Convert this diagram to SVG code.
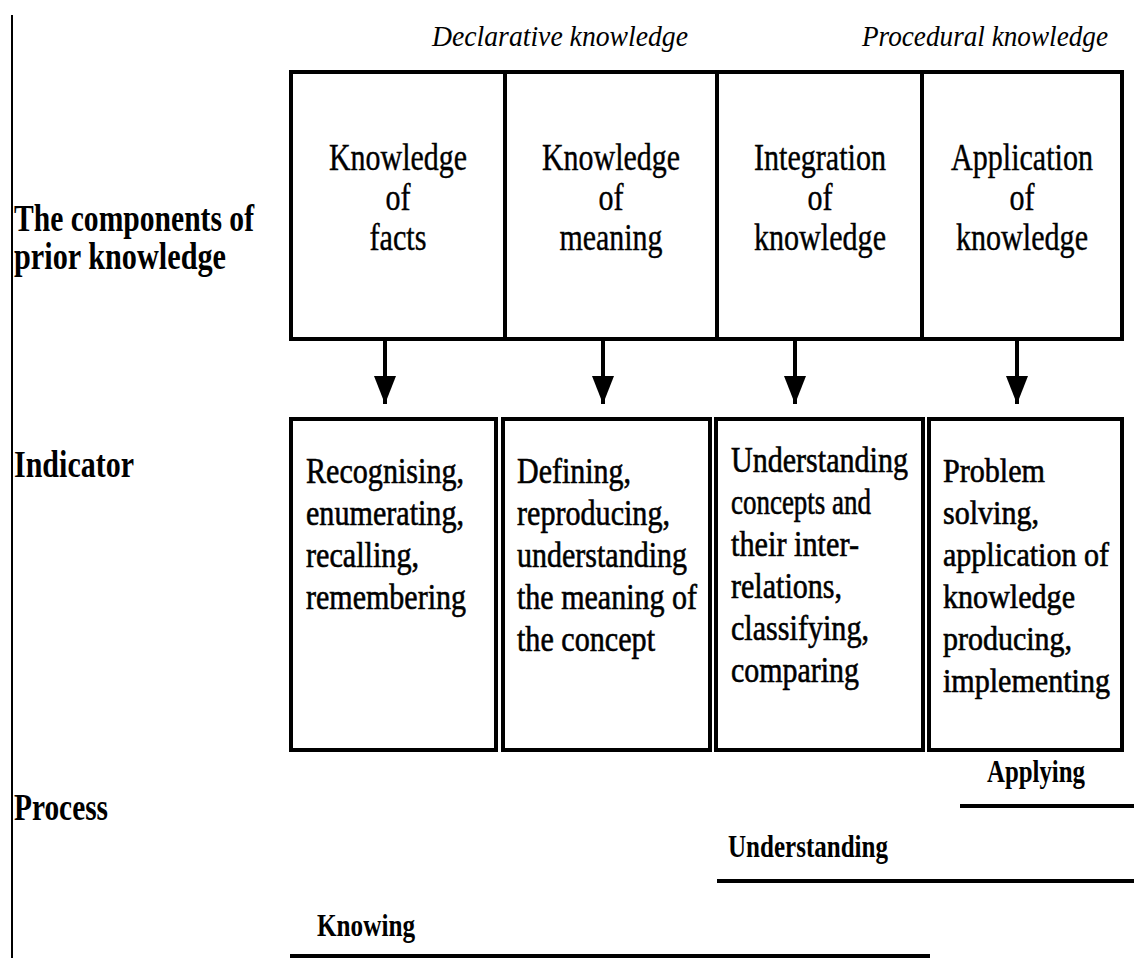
<svg xmlns="http://www.w3.org/2000/svg" width="1134" height="958" viewBox="0 0 1134 958">
  <defs>
    <marker id="arr" markerWidth="28" markerHeight="22" refX="28" refY="11" orient="auto" markerUnits="userSpaceOnUse" viewBox="0 0 28 22">
      <path d="M0,0 L28,11 L0,22 Z" fill="#000"/>
    </marker>
    <style>
      .box { fill: #fff; stroke: #000; stroke-width: 4; }
      .div { stroke: #000; stroke-width: 4; }
      .hd { font-family: "Liberation Serif", "Times New Roman", serif; font-size: 37px; fill: #000; text-anchor: middle; stroke: #000; stroke-width: 0.4; }
      .ind { font-family: "Liberation Serif", "Times New Roman", serif; font-size: 36px; fill: #000; stroke: #000; stroke-width: 0.6; }
      .ind4 { font-family: "Liberation Serif", "Times New Roman", serif; font-size: 33px; fill: #000; stroke: #000; stroke-width: 0.6; }
      .lbl { font-family: "Liberation Serif", "Times New Roman", serif; font-size: 38px; font-weight: bold; fill: #000; }
      .it { font-family: "Liberation Serif", "Times New Roman", serif; font-size: 29.5px; font-style: italic; fill: #000; }
      .proc { font-family: "Liberation Serif", "Times New Roman", serif; font-size: 32px; font-weight: bold; fill: #000; }
      .conn { stroke: #000; stroke-width: 4; fill: none; }
      .bar { stroke: #000; stroke-width: 4; }
    </style>
  </defs>
  <rect width="1134" height="958" fill="#fff"/>
  <line x1="12" y1="15" x2="12" y2="958" stroke="#000" stroke-width="2"/>

  <g id="type-labels">
    <text class="it" x="432" y="46" textLength="256" lengthAdjust="spacingAndGlyphs">Declarative knowledge</text>
    <text class="it" x="862" y="46" textLength="246" lengthAdjust="spacingAndGlyphs">Procedural knowledge</text>
  </g>

  <g id="row-labels">
    <text class="lbl" x="14" y="231" textLength="240" lengthAdjust="spacingAndGlyphs">The components of</text>
    <text class="lbl" x="14" y="269" textLength="212" lengthAdjust="spacingAndGlyphs">prior knowledge</text>
    <text class="lbl" x="14" y="477" textLength="120" lengthAdjust="spacingAndGlyphs">Indicator</text>
    <text class="lbl" x="14" y="820" textLength="94" lengthAdjust="spacingAndGlyphs">Process</text>
  </g>

  <g id="components">
    <rect class="box" x="291" y="72" width="831" height="267"/>
    <line class="div" x1="505" y1="72" x2="505" y2="339"/>
    <line class="div" x1="717" y1="72" x2="717" y2="339"/>
    <line class="div" x1="922" y1="72" x2="922" y2="339"/>
  </g>
  <g id="comp-facts">
    <text class="hd" x="398" y="170" textLength="138" lengthAdjust="spacingAndGlyphs">Knowledge</text>
    <text class="hd" x="398" y="210" textLength="25" lengthAdjust="spacingAndGlyphs">of</text>
    <text class="hd" x="398" y="250" textLength="57" lengthAdjust="spacingAndGlyphs">facts</text>
  </g>
  <g id="comp-meaning">
    <text class="hd" x="611" y="170" textLength="138" lengthAdjust="spacingAndGlyphs">Knowledge</text>
    <text class="hd" x="611" y="210" textLength="25" lengthAdjust="spacingAndGlyphs">of</text>
    <text class="hd" x="611" y="250" textLength="103" lengthAdjust="spacingAndGlyphs">meaning</text>
  </g>
  <g id="comp-integration">
    <text class="hd" x="820" y="170" textLength="132" lengthAdjust="spacingAndGlyphs">Integration</text>
    <text class="hd" x="820" y="210" textLength="25" lengthAdjust="spacingAndGlyphs">of</text>
    <text class="hd" x="820" y="250" textLength="132" lengthAdjust="spacingAndGlyphs">knowledge</text>
  </g>
  <g id="comp-application">
    <text class="hd" x="1022" y="170" textLength="142" lengthAdjust="spacingAndGlyphs">Application</text>
    <text class="hd" x="1022" y="210" textLength="25" lengthAdjust="spacingAndGlyphs">of</text>
    <text class="hd" x="1022" y="250" textLength="132" lengthAdjust="spacingAndGlyphs">knowledge</text>
  </g>

  <g id="connectors">
    <line class="conn" x1="385" y1="339" x2="385" y2="404" marker-end="url(#arr)"/>
    <line class="conn" x1="603" y1="339" x2="603" y2="404" marker-end="url(#arr)"/>
    <line class="conn" x1="795" y1="339" x2="795" y2="404" marker-end="url(#arr)"/>
    <line class="conn" x1="1017" y1="339" x2="1017" y2="404" marker-end="url(#arr)"/>
  </g>

  <g id="ind-facts">
    <rect class="box" x="291" y="419" width="205" height="331"/>
    <text class="ind" x="306" y="483" textLength="158" lengthAdjust="spacingAndGlyphs">Recognising,</text>
    <text class="ind" x="306" y="525" textLength="158" lengthAdjust="spacingAndGlyphs">enumerating,</text>
    <text class="ind" x="306" y="567" textLength="113" lengthAdjust="spacingAndGlyphs">recalling,</text>
    <text class="ind" x="306" y="609" textLength="160" lengthAdjust="spacingAndGlyphs">remembering</text>
  </g>
  <g id="ind-meaning">
    <rect class="box" x="503" y="419" width="207" height="331"/>
    <text class="ind" x="517" y="483" textLength="114" lengthAdjust="spacingAndGlyphs">Defining,</text>
    <text class="ind" x="517" y="525" textLength="153" lengthAdjust="spacingAndGlyphs">reproducing,</text>
    <text class="ind" x="517" y="567" textLength="170" lengthAdjust="spacingAndGlyphs">understanding</text>
    <text class="ind" x="517" y="609" textLength="180" lengthAdjust="spacingAndGlyphs">the meaning of</text>
    <text class="ind" x="517" y="651" textLength="138" lengthAdjust="spacingAndGlyphs">the concept</text>
  </g>
  <g id="ind-integration">
    <rect class="box" x="716" y="419" width="207" height="331"/>
    <text class="ind" x="731" y="472" textLength="177" lengthAdjust="spacingAndGlyphs">Understanding</text>
    <text class="ind" x="731" y="514" textLength="140" lengthAdjust="spacingAndGlyphs">concepts and</text>
    <text class="ind" x="731" y="556" textLength="128" lengthAdjust="spacingAndGlyphs">their inter-</text>
    <text class="ind" x="731" y="598" textLength="111" lengthAdjust="spacingAndGlyphs">relations,</text>
    <text class="ind" x="731" y="640" textLength="138" lengthAdjust="spacingAndGlyphs">classifying,</text>
    <text class="ind" x="731" y="682" textLength="128" lengthAdjust="spacingAndGlyphs">comparing</text>
  </g>
  <g id="ind-application">
    <rect class="box" x="929" y="419" width="193" height="331"/>
    <text class="ind4" x="943" y="482" textLength="102" lengthAdjust="spacingAndGlyphs">Problem</text>
    <text class="ind4" x="943" y="524" textLength="96" lengthAdjust="spacingAndGlyphs">solving,</text>
    <text class="ind4" x="943" y="566" textLength="166" lengthAdjust="spacingAndGlyphs">application of</text>
    <text class="ind4" x="943" y="608" textLength="132" lengthAdjust="spacingAndGlyphs">knowledge</text>
    <text class="ind4" x="943" y="650" textLength="129" lengthAdjust="spacingAndGlyphs">producing,</text>
    <text class="ind4" x="943" y="692" textLength="167" lengthAdjust="spacingAndGlyphs">implementing</text>
  </g>

  <g id="proc-applying">
    <text class="proc" x="987" y="782" textLength="98" lengthAdjust="spacingAndGlyphs">Applying</text>
    <line class="bar" x1="960" y1="806" x2="1134" y2="806"/>
  </g>
  <g id="proc-understanding">
    <text class="proc" x="728" y="857" textLength="160" lengthAdjust="spacingAndGlyphs">Understanding</text>
    <line class="bar" x1="717" y1="881" x2="1134" y2="881"/>
  </g>
  <g id="proc-knowing">
    <text class="proc" x="317" y="936" textLength="98" lengthAdjust="spacingAndGlyphs">Knowing</text>
    <line class="bar" x1="290" y1="956" x2="930" y2="956"/>
  </g>
</svg>
